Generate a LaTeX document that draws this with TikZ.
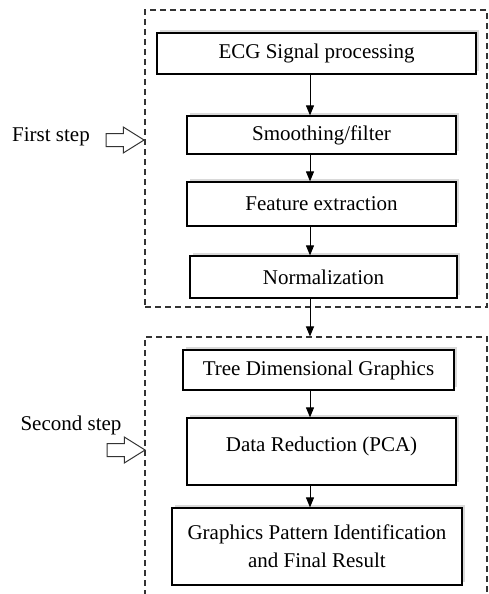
\documentclass[tikz,border=0pt]{standalone}
\usepackage{fontspec}
\setmainfont{Liberation Serif}
\usetikzlibrary{shapes.arrows, arrows.meta, shadows}

\begin{document}
\begin{tikzpicture}[x=1pt, y=-1pt,
    stepbox/.style={rectangle, draw=black, line width=1.2pt, fill=white,
        drop shadow={shadow xshift=3pt, shadow yshift=3pt, opacity=0.3},
        font=\fontsize{21}{28}\selectfont, align=center, inner sep=2pt},
    stagebox/.style={rectangle, draw=black!80, line width=1.1pt, dash pattern=on 6pt off 4pt},
    flow/.style={-{Triangle[length=10pt,width=8pt]}, line width=1pt},
    hollowarrow/.style={single arrow, draw=black!80, line width=1pt, fill=white,
        minimum height=38pt, inner sep=6pt, single arrow head extend=6.5pt,
        single arrow tip angle=64},
    steplabel/.style={font=\fontsize{21}{25}\selectfont, inner sep=0pt}]
    \useasboundingbox (0,0) rectangle (489,594);

    % Two dashed stages
    \node[stagebox, minimum width=342pt, minimum height=297pt] (stage1) at (316,158.5) {};
    \node[stagebox, minimum width=342pt, minimum height=263pt] (stage2) at (316,468.5) {};

    % Processing boxes
    \node[stepbox, minimum width=319pt, minimum height=41pt] (ecg) at (316.5,53.5) {ECG Signal processing};
    \node[stepbox, minimum width=269pt, minimum height=38pt] (smooth) at (321.5,135) {Smoothing/filter};
    \node[stepbox, minimum width=269pt, minimum height=44pt] (feat) at (321.5,204) {Feature extraction};
    \node[stepbox, minimum width=267pt, minimum height=42pt] (norm) at (323.5,277) {Normalization};
    \node[stepbox, minimum width=271pt, minimum height=40pt] (tree) at (318.5,370) {Tree Dimensional Graphics};
    \node[stepbox, minimum width=269pt, minimum height=67pt, text depth=14pt] (pca) at (321.5,451.5) {Data Reduction (PCA)};
    \node[stepbox, minimum width=290pt, minimum height=77pt] (graph) at (317,546.5) {Graphics Pattern Identification\\and Final Result\hspace{-8pt}};

    % Arrows down the middle
    \coordinate (spine) at (310,0);
    \foreach \a/\b in {ecg/smooth, smooth/feat, feat/norm, tree/pca, pca/graph}
        \draw[flow] (\a.south -| spine) -- (\b.north -| spine);
    \draw[flow] (norm.south -| spine) -- (stage2.north -| spine);

    % Step labels
    \node[steplabel] (first) at (51,137) {First step};
    \node[steplabel] (second) at (71,425) {Second step};
    \node[hollowarrow, anchor=tip] (arrow1) at (145,140) {};
    \node[hollowarrow, anchor=tip] (arrow2) at (146,450) {};
\end{tikzpicture}
\end{document}
